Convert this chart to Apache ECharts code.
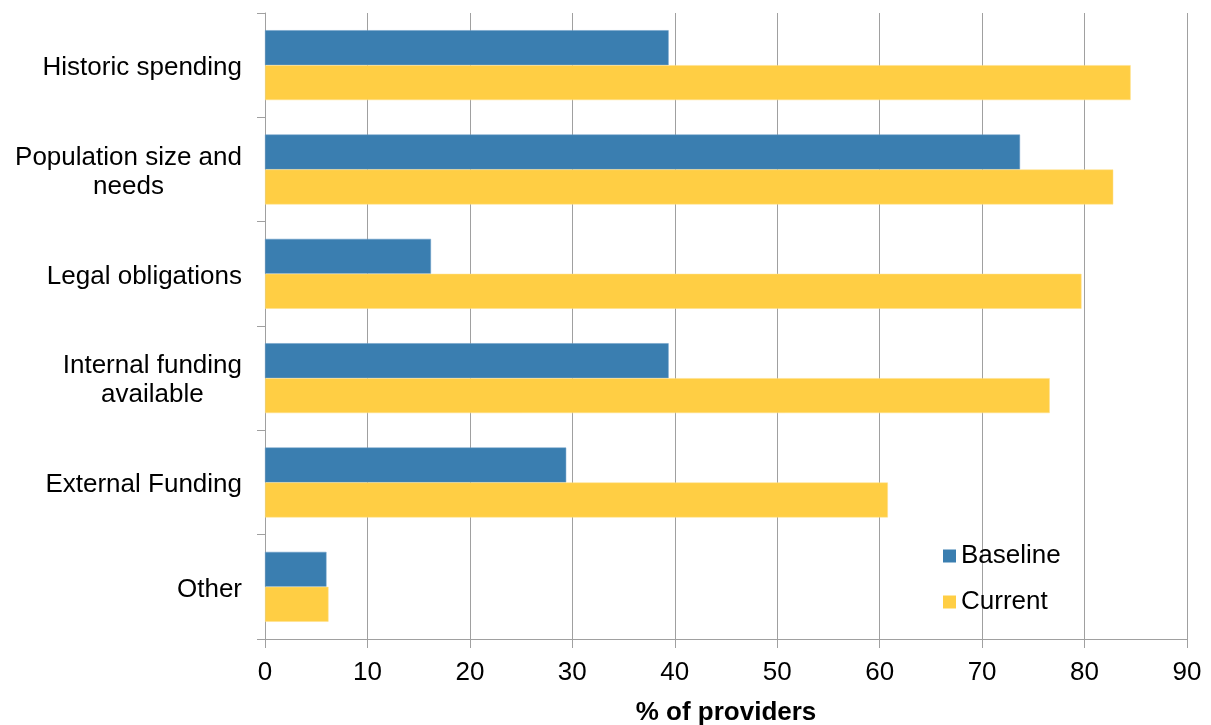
<!DOCTYPE html>
<html>
<head>
<meta charset="utf-8">
<script src="https://cdn.jsdelivr.net/npm/echarts@6/dist/echarts.min.js"></script>
<style>
html,body{margin:0;padding:0;background:#fff;}
#chart{width:1211px;height:725px;}
</style>
</head>
<body>
<div id="chart"></div>
<script>
var categories = ['Historic spending', 'Population size and\nneeds', 'Legal obligations', 'Internal funding\navailable', 'External Funding', 'Other'];
var baseline = [39.4, 73.7, 16.2, 39.4, 29.4, 6.0];
var current = [84.5, 82.8, 79.7, 76.6, 60.8, 6.2];
var xTicks = [0, 10, 20, 30, 40, 50, 60, 70, 80, 90];

var FONT = '"Liberation Sans", Arial, sans-serif';
var chart = echarts.init(document.getElementById('chart'));
chart.setOption({
  animation: false,
  textStyle: { fontFamily: FONT },
  grid: { left: 265, right: 24, top: 13, bottom: 86, containLabel: false, outerBoundsMode: 'none' },
  legend: {
    orient: 'vertical',
    left: 938,
    top: 538,
    itemWidth: 13,
    itemHeight: 13,
    itemGap: 20,
    icon: 'rect',
    itemStyle: { borderWidth: 0 },
    textStyle: { fontSize: 26, color: '#000', fontFamily: FONT },
    data: ['Baseline', 'Current']
  },
  xAxis: {
    type: 'value',
    min: xTicks[0],
    max: xTicks[xTicks.length - 1],
    interval: 10,
    name: '% of providers',
    nameLocation: 'middle',
    nameGap: 61,
    nameTextStyle: { fontSize: 26, fontWeight: 'bold', color: '#000', fontFamily: FONT },
    axisLine: { show: true, lineStyle: { color: '#a0a0a0', width: 1 } },
    axisTick: { show: true, length: 9, lineStyle: { color: '#a0a0a0' } },
    axisLabel: { fontSize: 26, color: '#000', margin: 21, fontFamily: FONT },
    splitLine: { show: true, lineStyle: { color: '#a0a0a0', width: 1 } }
  },
  yAxis: {
    type: 'category',
    inverse: true,
    data: categories,
    axisLine: { show: true, lineStyle: { color: '#a0a0a0', width: 1 } },
    axisTick: { show: true, length: 8, lineStyle: { color: '#a0a0a0' } },
    axisLabel: {
      margin: 23,
      color: '#000',
      fontSize: 26,
      fontFamily: FONT,
      lineHeight: 29,
      formatter: function (v) {
        return v.split('\n').map(function (l) { return '{c|' + l + '}'; }).join('\n');
      },
      rich: { c: { align: 'center', fontSize: 26, lineHeight: 29, color: '#000', fontFamily: FONT, padding: [5, 0, 0, 0] } }
    },
    splitLine: { show: false }
  },
  series: [
    {
      name: 'Baseline',
      type: 'bar',
      data: baseline,
      barGap: '0%',
      barCategoryGap: '33%',
      itemStyle: { color: '#3a7eb0', borderColor: '#6a9cc6', borderWidth: 0.5 }
    },
    {
      name: 'Current',
      type: 'bar',
      data: current,
      barGap: '0%',
      barCategoryGap: '33%',
      itemStyle: { color: '#ffce44', borderColor: '#ffe08a', borderWidth: 0.5 }
    }
  ]
});
</script>
</body>
</html>
